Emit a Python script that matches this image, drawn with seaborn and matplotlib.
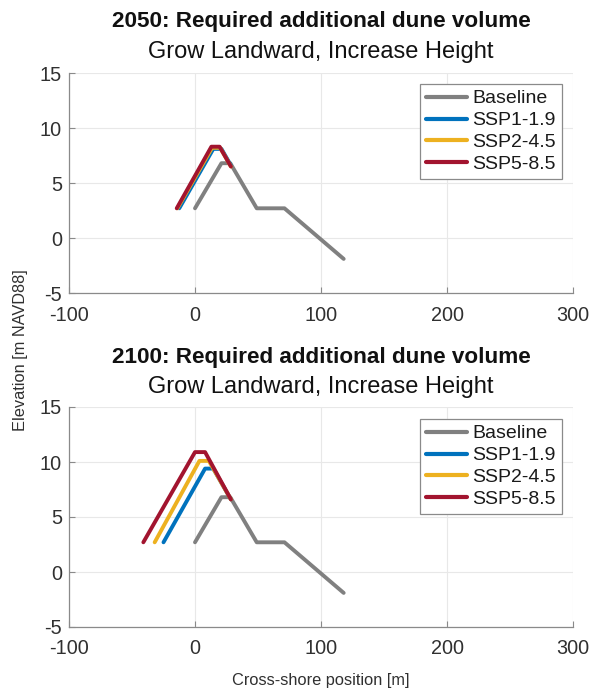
import matplotlib
matplotlib.use("Agg")
import matplotlib.pyplot as plt
import seaborn as sns
import pandas as pd

# ---- data ----
series_names = ["Baseline", "SSP1-1.9", "SSP2-4.5", "SSP5-8.5"]
colors = ["#808080", "#0072BD", "#EDB120", "#A2142F"]

baseline_x = [0, 21, 28, 49, 71, 118]
baseline_y = [2.7, 6.8, 6.8, 2.7, 2.7, -1.9]

# 2050
ssp119_2050_x = [-12.5, 14.5, 21, 28.5]
ssp119_2050_y = [2.7, 8.1, 8.1, 6.6]
ssp245_2050_x = [-14, 13.5, 20, 28.5]
ssp245_2050_y = [2.7, 8.2, 8.2, 6.5]
ssp585_2050_x = [-14.5, 13, 19.5, 28.5]
ssp585_2050_y = [2.7, 8.3, 8.3, 6.5]

# 2100
ssp119_2100_x = [-25, 8, 14.5, 28.5]
ssp119_2100_y = [2.7, 9.4, 9.4, 6.6]
ssp245_2100_x = [-32, 3.5, 11, 28.5]
ssp245_2100_y = [2.7, 10.1, 10.1, 6.6]
ssp585_2100_x = [-41, 0, 8, 28.5]
ssp585_2100_y = [2.7, 10.9, 10.9, 6.6]

titles = ["2050: Required additional dune volume", "2100: Required additional dune volume"]
subtitle = "Grow Landward, Increase Height"
xticks = [-100, 0, 100, 200, 300]
yticks = [-5, 0, 5, 10, 15]


def make_df(sets):
    rows = []
    for name, xs, ys in sets:
        for i, (x, y) in enumerate(zip(xs, ys)):
            rows.append({"series": name, "x": x, "y": y, "order": i})
    return pd.DataFrame(rows)


df2050 = make_df([
    ("Baseline", baseline_x, baseline_y),
    ("SSP1-1.9", ssp119_2050_x, ssp119_2050_y),
    ("SSP2-4.5", ssp245_2050_x, ssp245_2050_y),
    ("SSP5-8.5", ssp585_2050_x, ssp585_2050_y),
])
df2100 = make_df([
    ("Baseline", baseline_x, baseline_y),
    ("SSP1-1.9", ssp119_2100_x, ssp119_2100_y),
    ("SSP2-4.5", ssp245_2100_x, ssp245_2100_y),
    ("SSP5-8.5", ssp585_2100_x, ssp585_2100_y),
])

sns.set_theme(style="white")
plt.rcParams["font.family"] = ["Liberation Sans", "DejaVu Sans"]
plt.rcParams["axes.unicode_minus"] = False

fig = plt.figure(figsize=(5.92, 6.9), dpi=100)
W, H = 592, 690
L, R = 69, 573
ax_boxes = [(73, 293), (407, 627)]
legend_tops = [84, 419]
title_y = [(22, 52), (357, 387)]

spine_col = "#8a8a8a"
grid_col = "#e8e8e8"
text_col = "#303030"

for k, (df, (top, bot)) in enumerate(zip([df2050, df2100], ax_boxes)):
    ax = fig.add_axes([L / W, 1 - bot / H, (R - L) / W, (bot - top) / H])
    sns.lineplot(data=df, x="x", y="y", hue="series", hue_order=series_names,
                 palette=dict(zip(series_names, colors)), sort=False,
                 estimator=None, units="series", linewidth=2.8, ax=ax,
                 legend=True)
    ax.set_xlim(-100, 300)
    ax.set_ylim(-5, 15)
    ax.set_xticks(xticks)
    ax.set_yticks(yticks)
    ax.set_xlabel("")
    ax.set_ylabel("")
    ax.grid(True, color=grid_col, linewidth=0.8)
    ax.set_axisbelow(True)
    for s in ["top", "right"]:
        ax.spines[s].set_visible(False)
    for s in ["left", "bottom"]:
        ax.spines[s].set_color(spine_col)
        ax.spines[s].set_linewidth(0.9)
    ax.tick_params(axis="both", direction="in", length=4, width=0.8,
                   color=spine_col, labelsize=14.3, labelcolor=text_col,
                   bottom=True, left=True)
    ax.tick_params(axis="x", pad=9)
    ax.tick_params(axis="y", pad=5)
    leg = ax.legend(loc="upper right",
                    bbox_to_anchor=((562 - L) / (R - L), (bot - legend_tops[k]) / (bot - top)),
                    borderaxespad=0, fontsize=14, frameon=True, fancybox=False,
                    handlelength=2.1, handletextpad=0.3, borderpad=0.3,
                    labelspacing=0.22, edgecolor="#8a8a8a", framealpha=1)
    for line in leg.get_lines():
        line.set_linewidth(3)
    leg.get_frame().set_linewidth(0.9)
    for t in leg.get_texts():
        t.set_color("#1a1a1a")
    fig.text(((L + R) / 2) / W, 1 - title_y[k][0] / H, titles[k], ha="center", va="center",
             fontsize=16.2, fontweight="bold", color="#111111")
    fig.text(((L + R) / 2) / W, 1 - title_y[k][1] / H, subtitle, ha="center", va="center",
             fontsize=17, color="#111111")

fig.text(21 / W, 1 - 350 / H, "Elevation [m NAVD88]", rotation=90, ha="center", va="center",
         fontsize=11.8, color=text_col)
fig.text(((L + R) / 2) / W, 1 - 680 / H, "Cross-shore position [m]", ha="center", va="center",
         fontsize=11.8, color=text_col)

fig.savefig("out.png", dpi=100)
